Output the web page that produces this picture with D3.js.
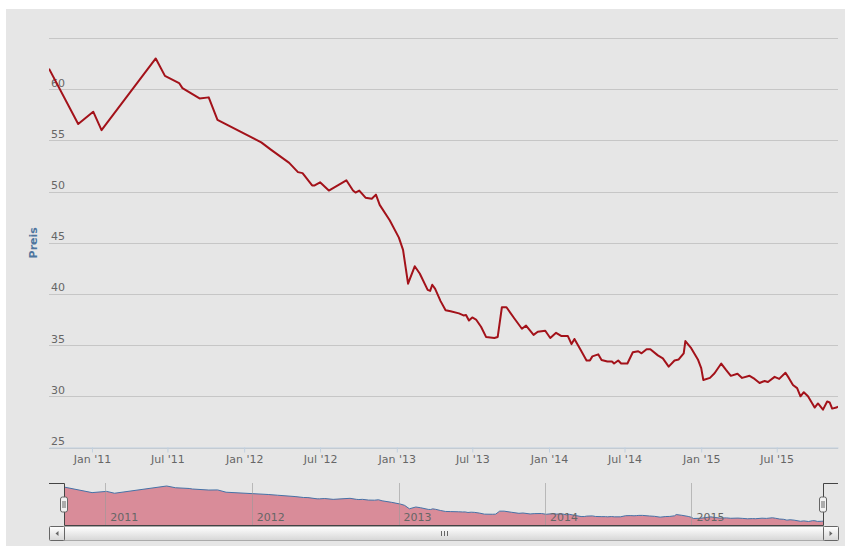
<!DOCTYPE html>
<html>
<head>
<meta charset="utf-8">
<script src="https://cdn.jsdelivr.net/npm/d3@7"></script>
<style>
  html, body { margin: 0; padding: 0; background: #ffffff; }
  svg { display: block; }
</style>
</head>
<body>
<div id="chart"></div>
<script>
// Price series, one entry per visible kink.
const dates = [
  "2010-09-20", "2010-11-29", "2011-01-04", "2011-01-24", "2011-06-03", "2011-06-25",
  "2011-07-29", "2011-08-06", "2011-09-16", "2011-10-08", "2011-10-29", "2012-02-11",
  "2012-03-05", "2012-04-18", "2012-05-09", "2012-05-20", "2012-06-12", "2012-06-18",
  "2012-07-01", "2012-07-22", "2012-09-02", "2012-09-18", "2012-09-24", "2012-10-03",
  "2012-10-18", "2012-11-02", "2012-11-12", "2012-11-21", "2012-12-15", "2013-01-06",
  "2013-01-16", "2013-01-28", "2013-02-13", "2013-02-25", "2013-03-16", "2013-03-22",
  "2013-03-27", "2013-04-03", "2013-04-16", "2013-04-28", "2013-05-10", "2013-05-30",
  "2013-06-10", "2013-06-16", "2013-06-23", "2013-07-01", "2013-07-10", "2013-07-22",
  "2013-08-03", "2013-08-23", "2013-08-31", "2013-09-10", "2013-09-21", "2013-10-10",
  "2013-10-28", "2013-11-07", "2013-11-25", "2013-12-05", "2013-12-23", "2014-01-04",
  "2014-01-18", "2014-01-30", "2014-02-15", "2014-02-24", "2014-03-03", "2014-03-17",
  "2014-04-01", "2014-04-09", "2014-04-15", "2014-04-29", "2014-05-07", "2014-05-21",
  "2014-06-01", "2014-06-06", "2014-06-16", "2014-06-23", "2014-07-08", "2014-07-21",
  "2014-08-03", "2014-08-11", "2014-08-17", "2014-08-23", "2014-09-01", "2014-09-19",
  "2014-10-01", "2014-10-15", "2014-10-29", "2014-11-08", "2014-11-20", "2014-11-24",
  "2014-12-08", "2014-12-24", "2015-01-01", "2015-01-06", "2015-01-22", "2015-02-02",
  "2015-02-18", "2015-03-01", "2015-03-13", "2015-03-29", "2015-04-09", "2015-04-27",
  "2015-05-09", "2015-05-21", "2015-06-02", "2015-06-10", "2015-06-26", "2015-07-07",
  "2015-07-22", "2015-07-30", "2015-08-09", "2015-08-19", "2015-08-27", "2015-09-04",
  "2015-09-14", "2015-09-30", "2015-10-08", "2015-10-20", "2015-10-30", "2015-11-05",
  "2015-11-11", "2015-11-21", "2015-11-25"
];
const prices = [
  62.0, 56.6, 57.8, 56.0, 63.0, 61.3,
  60.6, 60.1, 59.1, 59.2, 57.0, 54.8,
  54.1, 52.8, 51.9, 51.8, 50.6, 50.6,
  50.9, 50.1, 51.1, 50.1, 49.9, 50.1,
  49.4, 49.3, 49.7, 48.7, 47.2, 45.5,
  44.3, 41.0, 42.7, 42.0, 40.4, 40.3,
  40.9, 40.5, 39.3, 38.4, 38.3, 38.1,
  37.9, 37.95, 37.4, 37.7, 37.5, 36.8,
  35.8, 35.7, 35.8, 38.7, 38.7, 37.6,
  36.6, 36.9, 36.0, 36.3, 36.4, 35.7,
  36.2, 35.9, 35.9, 35.1, 35.6, 34.6,
  33.5, 33.5, 33.9, 34.1, 33.55, 33.4,
  33.4, 33.2, 33.5, 33.2, 33.2, 34.3,
  34.4, 34.2, 34.4, 34.6, 34.6, 34.0,
  33.7, 32.9, 33.5, 33.6, 34.2, 35.4,
  34.7, 33.6, 32.75, 31.6, 31.8, 32.25,
  33.2, 32.6, 32.0, 32.2, 31.8, 32.0,
  31.7, 31.3, 31.5, 31.4, 31.9, 31.7,
  32.3, 31.8, 31.1, 30.8, 30.0, 30.4,
  30.0, 28.9, 29.3, 28.7, 29.5, 29.4,
  28.8, 28.9, 29.0
];

const yGridTicks = [25, 30, 35, 40, 45, 50, 55, 60, 65];
const yLabelTicks = [25, 30, 35, 40, 45, 50, 55, 60];
const xTickDates = ["2011-01-01", "2011-07-01", "2012-01-01", "2012-07-01", "2013-01-01",
  "2013-07-01", "2014-01-01", "2014-07-01", "2015-01-01", "2015-07-01"];
const xTickLabels = ["Jan '11", "Jul '11", "Jan '12", "Jul '12", "Jan '13",
  "Jul '13", "Jan '14", "Jul '14", "Jan '15", "Jul '15"];
const navYears = ["2011", "2012", "2013", "2014", "2015"];
const yTitle = "Preis";

(function () {
  const W = 848, H = 548;
  const FONT = "'DejaVu Sans', Verdana, sans-serif";
  const plot = { left: 49, right: 838, top: 38, bottom: 447.5 };
  const nav = { left: 64, right: 823, top: 483, bottom: 525, seriesTop: 486, seriesBottom: 521.5 };
  const bar = { top: 526.5, h: 14 };

  const parse = d3.timeParse("%Y-%m-%d");
  const series = dates.map((d, i) => ({ date: parse(d), value: prices[i] }));
  const dateExtent = d3.extent(series, (d) => d.date);

  const svg = d3.select("#chart").append("svg")
    .attr("width", W).attr("height", H);

  const defs = svg.append("defs");
  defs.append("clipPath").attr("id", "plot-clip")
    .append("rect")
    .attr("x", plot.left).attr("y", plot.top - 5)
    .attr("width", plot.right - plot.left).attr("height", plot.bottom - plot.top + 5);
  const grad = defs.append("linearGradient").attr("id", "bar-grad")
    .attr("x1", 0).attr("y1", 0).attr("x2", 0).attr("y2", 1);
  grad.append("stop").attr("offset", 0).attr("stop-color", "#ffffff");
  grad.append("stop").attr("offset", 1).attr("stop-color", "#d6d6d6");

  // chart background
  svg.append("rect")
    .attr("x", 6).attr("y", 9).attr("width", 839).attr("height", 537)
    .attr("fill", "#e6e6e6");

  const x = d3.scaleTime().domain(dateExtent).range([plot.left, plot.right]);
  const y = d3.scaleLinear().domain([25, 65]).range([plot.bottom, plot.top]);

  // horizontal gridlines
  svg.append("g").selectAll("line").data(yGridTicks).join("line")
    .attr("x1", plot.left).attr("x2", plot.right)
    .attr("y1", (d) => Math.round(y(d)) + 0.5).attr("y2", (d) => Math.round(y(d)) + 0.5)
    .attr("stroke", "#c6c6c6").attr("stroke-width", 1);

  // y labels sit inside the plot, just above their gridline
  svg.append("g").selectAll("text").data(yLabelTicks).join("text")
    .attr("x", 51).attr("y", (d) => y(d) - 2.5)
    .attr("font-family", FONT).attr("font-size", 11).attr("fill", "#666")
    .text((d) => d);

  // x axis
  const xAxis = d3.axisBottom(x)
    .tickValues(xTickDates.map(parse))
    .tickFormat((d, i) => xTickLabels[i])
    .tickSize(5).tickSizeOuter(0);
  const gx = svg.append("g")
    .attr("transform", `translate(0,${plot.bottom})`)
    .call(xAxis);
  gx.select(".domain").attr("stroke", "#c0d0e0");
  gx.selectAll(".tick line").attr("stroke", "#c0d0e0");
  gx.selectAll(".tick text")
    .attr("font-family", FONT).attr("font-size", 11).attr("fill", "#666");

  // price line
  const line = d3.line().x((d) => x(d.date)).y((d) => y(d.value));
  svg.append("path").datum(series)
    .attr("clip-path", "url(#plot-clip)")
    .attr("d", line)
    .attr("fill", "none").attr("stroke", "#a3121a")
    .attr("stroke-width", 2).attr("stroke-linejoin", "round");

  // axis title
  svg.append("text")
    .attr("transform", `translate(37,${(plot.top + plot.bottom) / 2}) rotate(-90)`)
    .attr("text-anchor", "middle")
    .attr("font-family", FONT).attr("font-size", 11).attr("font-weight", "bold")
    .attr("fill", "#4d759e")
    .text(yTitle);

  // ---- navigator ----
  const nx = d3.scaleTime().domain(dateExtent).range([nav.left, nav.right]);
  const ny = d3.scaleLinear().domain(d3.extent(prices)).range([nav.seriesBottom, nav.seriesTop]);

  const area = d3.area().x((d) => nx(d.date)).y0(nav.bottom).y1((d) => ny(d.value));
  svg.append("path").datum(series).attr("d", area).attr("fill", "#d98c99");
  svg.append("path").datum(series)
    .attr("d", d3.line().x((d) => nx(d.date)).y((d) => ny(d.value)))
    .attr("fill", "none").attr("stroke", "#4572a7").attr("stroke-width", 1);

  const navGrid = svg.append("g");
  navGrid.selectAll("line").data(navYears).join("line")
    .attr("x1", (d) => Math.round(nx(parse(d + "-01-01"))) + 0.5)
    .attr("x2", (d) => Math.round(nx(parse(d + "-01-01"))) + 0.5)
    .attr("y1", nav.top).attr("y2", nav.bottom)
    .attr("stroke", "#9a9a9a").attr("stroke-opacity", 0.6);
  navGrid.selectAll("text").data(navYears).join("text")
    .attr("x", (d) => nx(parse(d + "-01-01")) + 5)
    .attr("y", 521)
    .attr("font-family", FONT).attr("font-size", 11).attr("fill", "#666")
    .text((d) => d);

  // outline around the selected range
  svg.append("path")
    .attr("d", `M${plot.left},${nav.top + 0.5}H${nav.left + 0.5}V${nav.bottom + 0.5}` +
      `H${nav.right + 0.5}V${nav.top + 0.5}H${plot.right}`)
    .attr("fill", "none").attr("stroke", "#444").attr("stroke-width", 1);

  // handles
  const handles = svg.append("g").selectAll("g").data([nav.left, nav.right]).join("g")
    .attr("transform", (d) => `translate(${d + 0.5},${(nav.top + nav.bottom) / 2 - 7})`);
  handles.append("rect")
    .attr("x", -4).attr("y", 0).attr("width", 7).attr("height", 15).attr("rx", 2)
    .attr("fill", "#f2f2f2").attr("stroke", "#666");
  handles.append("path")
    .attr("d", "M-1.5,4V11M0.5,4V11")
    .attr("stroke", "#666").attr("stroke-width", 1);

  // ---- scrollbar ----
  const sb = svg.append("g");
  sb.append("rect")
    .attr("x", nav.left + 0.5).attr("y", bar.top)
    .attr("width", nav.right - nav.left).attr("height", bar.h)
    .attr("fill", "url(#bar-grad)").attr("stroke", "#aaa");
  [[plot.left + 0.5, -1], [nav.right + 0.5, 1]].forEach(([bx, dir]) => {
    sb.append("rect")
      .attr("x", bx).attr("y", bar.top)
      .attr("width", 15).attr("height", bar.h).attr("rx", 1)
      .attr("fill", "url(#bar-grad)").attr("stroke", "#666");
    const cx = bx + 7.5, cy = bar.top + bar.h / 2;
    sb.append("path")
      .attr("d", `M${cx - 1.5 * dir},${cy - 2.5}L${cx - 1.5 * dir},${cy + 2.5}L${cx + 1.5 * dir},${cy}Z`)
      .attr("fill", "#666");
  });
  const gripX = (nav.left + nav.right) / 2;
  sb.append("path")
    .attr("d", [-3, 0, 3].map((o) => `M${Math.round(gripX + o) + 0.5},${bar.top + 4.5}V${bar.top + 9.5}`).join(""))
    .attr("stroke", "#666").attr("stroke-width", 1);
})();
</script>
</body>
</html>
